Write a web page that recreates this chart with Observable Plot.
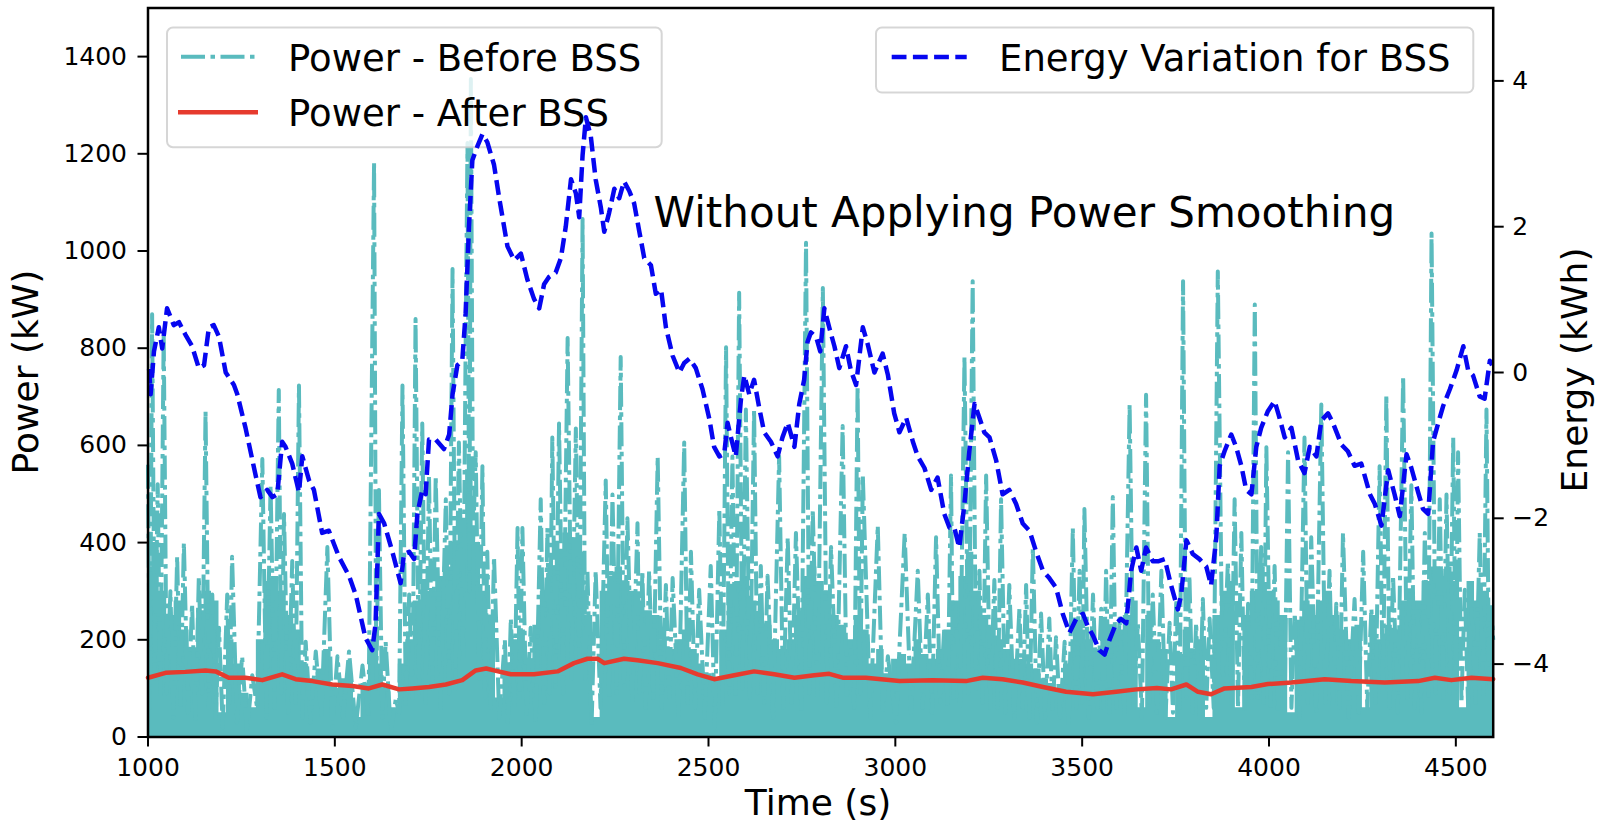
<!DOCTYPE html>
<html>
<head>
<meta charset="utf-8">
<script src="https://cdn.jsdelivr.net/npm/d3@7"></script>
<script src="https://cdn.jsdelivr.net/npm/@observablehq/plot@0.6"></script>
<style>
  html, body { margin: 0; padding: 0; background: #fff; }
  #chart svg { display: block; }
</style>
</head>
<body>
<div id="chart"></div>
<script>
// ---------------- DATA ----------------
// Power - Before BSS (kW): spikes and troughs
const beforeTime = [1000,1005,1011,1018,1026,1033,1042,1050,1060,1068,1078,1087,1096,1107,1118,1127,1136,1145,1154,1163,1172,1181,1190,1200,1212,1218,1225,1238,1252,1265,1279,1292,1306,1317,1328,1339,1350,1357,1364,1375,1386,1395,1404,1413,1422,1435,1449,1464,1480,1493,1507,1522,1538,1556,1574,1590,1605,1611,1618,1627,1636,1650,1663,1672,1681,1690,1699,1708,1716,1725,1734,1743,1752,1761,1770,1783,1797,1806,1815,1823,1832,1843,1850,1855,1860,1864,1870,1877,1886,1895,1902,1908,1917,1926,1940,1955,1963,1971,1980,1989,1995,2002,2013,2024,2038,2051,2060,2069,2075,2082,2091,2100,2111,2123,2134,2145,2154,2163,2170,2176,2187,2198,2211,2225,2234,2243,2254,2265,2274,2283,2296,2310,2316,2323,2332,2341,2352,2364,2375,2386,2395,2404,2420,2435,2444,2453,2464,2475,2490,2506,2517,2529,2538,2547,2555,2564,2573,2582,2591,2600,2611,2622,2631,2640,2649,2658,2673,2689,2700,2712,2723,2734,2748,2761,2770,2779,2792,2806,2817,2828,2843,2859,2870,2881,2890,2899,2906,2913,2933,2953,2966,2980,3002,3025,3042,3060,3073,3087,3098,3109,3120,3131,3140,3149,3155,3162,3173,3185,3196,3207,3216,3225,3234,3243,3254,3265,3274,3283,3294,3305,3318,3332,3341,3350,3359,3368,3379,3390,3401,3412,3421,3430,3441,3453,3464,3475,3484,3493,3500,3506,3518,3529,3540,3551,3557,3564,3573,3582,3591,3600,3613,3627,3638,3649,3660,3671,3680,3689,3700,3712,3723,3734,3743,3752,3761,3770,3778,3787,3796,3805,3814,3823,3832,3841,3852,3863,3876,3890,3899,3908,3917,3926,3935,3944,3953,3962,3970,3979,3986,3993,4004,4015,4024,4033,4042,4051,4060,4069,4082,4095,4104,4113,4126,4140,4151,4162,4171,4180,4189,4198,4213,4229,4240,4252,4263,4274,4285,4296,4305,4314,4323,4332,4345,4359,4370,4381,4390,4399,4408,4417,4426,4435,4446,4457,4466,4475,4484,4493,4500,4506,4515,4524,4533,4542,4553,4564,4573,4582,4589,4595,4600];
const beforePower = [560,60,870,120,520,80,830,90,300,40,371,60,400,50,274,30,330,90,670,60,293,40,225,20,293,70,371,30,166,10,127,60,572,40,518,60,714,90,459,50,362,70,723,40,196,30,176,40,391,20,166,40,176,20,147,40,1183,100,508,40,196,10,78,50,723,60,293,80,860,90,645,70,538,100,538,60,489,90,963,100,606,150,800,1222,300,1354,400,586,120,557,80,381,60,371,40,200,30,244,60,430,80,430,40,225,30,489,70,430,90,616,100,645,90,821,120,635,150,1066,120,342,20,342,60,528,80,499,90,782,100,450,70,440,90,342,60,342,80,577,60,313,80,327,40,606,70,381,60,303,40,352,20,469,60,802,90,577,80,914,100,674,80,674,90,352,70,332,40,577,60,411,70,420,50,1017,90,469,80,924,70,391,60,640,80,186,60,723,90,538,40,435,50,166,30,420,50,342,60,293,50,411,70,225,60,538,80,264,60,782,90,938,100,342,70,538,60,323,60,489,50,313,40,264,60,313,40,391,30,254,40,244,50,205,40,196,20,430,60,342,70,469,40,293,60,264,60,342,50,494,60,244,40,684,60,235,40,704,70,293,50,342,40,235,50,284,60,938,80,332,50,235,40,284,60,244,60,958,80,362,70,489,60,420,50,274,80,890,80,391,70,596,60,352,50,244,70,586,60,254,40,616,70,411,50,684,70,342,60,274,60,420,40,284,50,381,60,264,70,557,80,704,60,332,50,743,80,518,60,264,50,420,80,1036,90,489,80,499,90,616,100,586,70,303,60,264,70,420,80,674,100,264,200];
// Dense lower body of the "before" signal (kW), every 20 s
const bodyTime = [1000,1020,1040,1060,1080,1100,1120,1140,1160,1180,1200,1220,1240,1260,1280,1300,1320,1340,1360,1380,1400,1420,1440,1460,1480,1500,1520,1540,1560,1580,1600,1620,1640,1660,1680,1700,1720,1740,1760,1780,1800,1820,1840,1860,1880,1900,1920,1940,1960,1980,2000,2020,2040,2060,2080,2100,2120,2140,2160,2180,2200,2220,2240,2260,2280,2300,2320,2340,2360,2380,2400,2420,2440,2460,2480,2500,2520,2540,2560,2580,2600,2620,2640,2660,2680,2700,2720,2740,2760,2780,2800,2820,2840,2860,2880,2900,2920,2940,2960,2980,3000,3020,3040,3060,3080,3100,3120,3140,3160,3180,3200,3220,3240,3260,3280,3300,3320,3340,3360,3380,3400,3420,3440,3460,3480,3500,3520,3540,3560,3580,3600,3620,3640,3660,3680,3700,3720,3740,3760,3780,3800,3820,3840,3860,3880,3900,3920,3940,3960,3980,4000,4020,4040,4060,4080,4100,4120,4140,4160,4180,4200,4220,4240,4260,4280,4300,4320,4340,4360,4380,4400,4420,4440,4460,4480,4500,4520,4540,4560,4580,4600];
const bodyPower = [350,400,300,250,280,220,180,260,300,280,50,200,150,90,60,200,320,330,300,250,220,150,120,140,180,100,120,130,40,110,200,150,100,60,150,200,280,320,300,330,350,400,450,550,400,300,250,80,150,200,220,150,230,300,350,380,420,400,380,250,40,300,330,350,320,300,280,260,250,200,180,200,220,180,150,130,120,220,300,320,330,280,250,230,200,180,200,250,330,350,320,300,250,230,200,250,220,150,180,130,160,170,150,200,170,160,180,220,280,330,380,300,250,220,200,180,160,160,150,140,120,110,100,150,200,220,200,180,200,230,220,250,280,60,250,200,180,40,170,220,180,200,40,250,300,320,60,250,300,350,300,280,250,50,240,280,250,280,300,250,220,200,230,60,250,200,230,220,280,300,280,320,350,330,350,320,60,320,280,300,270];
// Power - After BSS (kW)
const afterTime = [1000,1047,1100,1154,1181,1216,1261,1306,1359,1395,1440,1493,1547,1591,1627,1672,1707,1752,1797,1841,1877,1905,1926,1971,2033,2096,2140,2176,2203,2221,2274,2310,2364,2426,2471,2515,2569,2622,2676,2730,2783,2823,2859,2921,3011,3100,3189,3234,3287,3341,3395,3457,3529,3591,3645,3700,3738,3779,3810,3845,3881,3953,3997,4060,4149,4220,4310,4399,4444,4488,4542,4600];
const afterPower = [122,132,134,137,135,122,122,117,129,119,115,108,105,100,108,98,100,103,108,117,137,141,137,129,129,135,152,161,161,152,161,158,152,142,129,119,127,135,129,122,127,130,122,122,115,117,115,122,119,112,103,93,88,93,98,101,98,108,93,88,100,103,109,112,119,115,112,115,122,117,122,119];
// Energy Variation for BSS (kWh)
const energyTime = [1003,1007,1016,1029,1038,1051,1069,1083,1100,1118,1136,1150,1163,1176,1190,1208,1230,1239,1261,1288,1301,1319,1333,1346,1359,1368,1386,1404,1413,1431,1444,1466,1484,1511,1538,1556,1582,1600,1609,1618,1632,1654,1676,1685,1699,1712,1721,1734,1743,1752,1770,1792,1806,1815,1828,1841,1850,1859,1868,1882,1895,1908,1926,1940,1962,1980,1998,2015,2033,2047,2060,2073,2091,2105,2118,2132,2145,2154,2163,2172,2185,2198,2212,2221,2234,2248,2261,2274,2288,2301,2315,2328,2346,2359,2373,2386,2404,2422,2435,2449,2466,2484,2502,2515,2529,2542,2551,2560,2573,2587,2596,2609,2622,2636,2649,2667,2685,2698,2712,2730,2743,2756,2765,2774,2788,2799,2810,2823,2837,2850,2868,2881,2895,2913,2926,2944,2966,2980,2997,3011,3029,3047,3060,3078,3096,3113,3131,3145,3158,3171,3185,3198,3212,3225,3238,3252,3270,3287,3305,3323,3341,3359,3377,3395,3412,3430,3448,3466,3484,3502,3515,3529,3546,3560,3573,3591,3604,3618,3631,3645,3658,3671,3689,3703,3721,3738,3756,3765,3779,3796,3814,3832,3845,3859,3868,3881,3899,3912,3926,3939,3953,3966,3979,3997,4015,4028,4042,4060,4078,4095,4109,4127,4140,4158,4171,4194,4211,4229,4247,4270,4283,4301,4319,4336,4350,4368,4381,4399,4412,4426,4439,4453,4466,4484,4502,4520,4533,4546,4564,4577,4591,4597];
const energyValue = [0.05,-0.30,0.29,0.62,0.33,0.88,0.65,0.69,0.52,0.36,0.06,0.10,0.62,0.65,0.49,0.0,-0.17,-0.30,-0.76,-1.41,-1.71,-1.61,-1.71,-1.67,-0.95,-1.02,-1.25,-1.64,-1.15,-1.48,-1.61,-2.20,-2.17,-2.53,-2.79,-3.05,-3.64,-3.81,-3.45,-1.94,-2.07,-2.46,-2.89,-2.49,-2.46,-2.56,-1.94,-1.61,-1.67,-0.92,-0.92,-1.05,-0.85,-0.30,0.10,0.16,0.81,2.0,2.91,3.11,3.27,3.16,2.85,2.39,1.73,1.54,1.63,1.28,1.01,0.88,1.21,1.31,1.37,1.57,2.0,2.65,2.46,2.13,2.98,3.50,3.24,2.65,2.26,1.93,2.19,2.52,2.39,2.62,2.49,2.32,1.93,1.57,1.47,1.08,1.14,0.62,0.23,0.0,0.13,0.19,0.06,-0.23,-0.63,-1.02,-1.15,-1.12,-0.69,-0.89,-1.15,-0.36,-0.04,-0.30,-0.10,-0.49,-0.82,-0.95,-1.15,-0.89,-0.69,-1.02,-0.43,-0.10,0.42,0.55,0.49,0.29,0.88,0.62,0.36,0.06,0.36,0.03,-0.17,0.62,0.39,0.0,0.26,-0.03,-0.56,-0.82,-0.62,-0.95,-1.15,-1.31,-1.61,-1.44,-1.94,-2.13,-2.13,-2.40,-1.80,-1.08,-0.43,-0.62,-0.82,-0.89,-1.21,-1.67,-1.61,-1.80,-2.07,-2.17,-2.46,-2.72,-2.82,-2.95,-3.31,-3.57,-3.38,-3.31,-3.48,-3.61,-3.81,-3.87,-3.67,-3.44,-3.38,-3.44,-2.72,-2.40,-2.72,-2.40,-2.59,-2.59,-2.56,-2.92,-3.25,-3.05,-2.30,-2.49,-2.56,-2.66,-2.92,-2.26,-1.28,-1.08,-0.85,-1.02,-1.28,-1.61,-1.67,-1.02,-0.76,-0.53,-0.39,-0.62,-0.89,-0.76,-1.21,-1.38,-1.02,-1.15,-0.66,-0.56,-0.69,-0.99,-1.08,-1.28,-1.25,-1.67,-1.80,-2.10,-1.34,-1.67,-1.97,-1.12,-1.31,-1.64,-1.87,-1.94,-0.95,-0.69,-0.46,-0.23,0.03,0.36,0.03,-0.04,-0.33,-0.36,0.16,0.10];

const xTicks = [1000,1500,2000,2500,3000,3500,4000,4500];
const yTicks = [0,200,400,600,800,1000,1200,1400];
const energyTicks = [-4,-2,0,2,4];
const seriesNames = ["Power - Before BSS","Power - After BSS","Energy Variation for BSS"];
const annotationText = "Without Applying Power Smoothing";
const titles = {x: "Time (s)", y: "Power (kW)", y2: "Energy (kWh)"};

// ---------------- SETUP ----------------
const timeDomain = [1000, 4600];
const powerDomain = [0, 1500];
const energyDomain = [-5, 5];
const toPower = d3.scaleLinear().domain(energyDomain).range(powerDomain);

const cyan = "#5abbbe", red = "#e63b2e", blue = "#0606f0";
const FONT = "'DejaVu Sans', 'Liberation Sans', sans-serif";
const W = 1601, H = 827;
const M = {left: 147.5, right: 108.3, top: 7.5, bottom: 90.5};

const beforeData = beforeTime.map((t, i) => ({t, p: beforePower[i]}));
const bodyData = bodyTime.map((t, i) => ({t, p: bodyPower[i]}));
const afterData = afterTime.map((t, i) => ({t, p: afterPower[i]}));
const energyData = energyTime.map((t, i) => ({t, e: energyValue[i]}));
const fmtSigned = v => { const r = Math.round(v); return r < 0 ? "\u2212" + Math.abs(r) : String(r); };

const chart = Plot.plot({
  width: W, height: H,
  marginLeft: M.left, marginRight: M.right, marginTop: M.top, marginBottom: M.bottom,
  style: {fontFamily: FONT, fontSize: "25px", color: "black", background: "white", overflow: "visible"},
  x: {domain: timeDomain},
  y: {domain: powerDomain},
  marks: [
    Plot.areaY(bodyData, {x: "t", y: "p", fill: cyan, curve: "step"}),
    Plot.line(beforeData, {x: "t", y: "p", stroke: cyan, strokeWidth: 4, strokeDasharray: "24,5.5,4.5,5.5", strokeLinecap: "butt", strokeLinejoin: "round"}),
    Plot.line(afterData, {x: "t", y: "p", stroke: red, strokeWidth: 4.5}),
    Plot.text([annotationText], {x: () => 2353, y: () => 1078, text: d => d, textAnchor: "start", lineAnchor: "middle", fontSize: 42, fill: "black"}),
    Plot.line(energyData, {x: "t", y: d => toPower(d.e), stroke: blue, strokeWidth: 4.5, strokeDasharray: "14.8,6.4", strokeLinecap: "butt", strokeLinejoin: "round"}),
    Plot.axisX({ticks: xTicks, tickFormat: "d", tickSize: 10, tickPadding: 11, fontSize: 25, strokeWidth: 2, label: null}),
    Plot.axisY({ticks: yTicks, tickFormat: "d", tickSize: 10, tickPadding: 11, fontSize: 25, strokeWidth: 2, label: null}),
    Plot.axisY({anchor: "right", ticks: energyTicks.map(toPower), tickFormat: v => fmtSigned(toPower.invert(v)), tickSize: 10, tickPadding: 9, fontSize: 25, strokeWidth: 2, label: null}),
    Plot.frame({stroke: "black", strokeWidth: 2.5})
  ]
});

document.getElementById("chart").appendChild(chart);
const svg = d3.select(chart);

// Legend 1 (belongs to the power axes: drawn under the energy line)
const leg1 = d3.create("svg:g").attr("font-family", FONT).attr("text-anchor", "start");
leg1.append("rect").attr("x", 167).attr("y", 27.5).attr("width", 494.7).attr("height", 119.8)
  .attr("rx", 6).attr("fill", "white").attr("fill-opacity", 0.8)
  .attr("stroke", "#cccccc").attr("stroke-opacity", 0.8).attr("stroke-width", 2);
leg1.append("line").attr("x1", 181).attr("x2", 256).attr("y1", 56.7).attr("y2", 56.7)
  .attr("stroke", cyan).attr("stroke-width", 4).attr("stroke-dasharray", "24,5.5,4.5,5.5");
leg1.append("line").attr("x1", 178).attr("x2", 258).attr("y1", 112.3).attr("y2", 112.3)
  .attr("stroke", red).attr("stroke-width", 4.5);
leg1.append("text").attr("x", 288).attr("y", 70.5).attr("font-size", 37).attr("fill", "black").text(seriesNames[0]);
leg1.append("text").attr("x", 288).attr("y", 126).attr("font-size", 37).attr("fill", "black").text(seriesNames[1]);
let energyG = null;
for (const g of chart.querySelectorAll(":scope > g")) {
  if (g.getAttribute("stroke") === blue) { energyG = g; break; }
}
if (energyG) chart.insertBefore(leg1.node(), energyG); else chart.appendChild(leg1.node());

// Legend 2 (energy axes, on top)
const leg2 = svg.append("g").attr("font-family", FONT).attr("text-anchor", "start");
leg2.append("rect").attr("x", 876).attr("y", 27.5).attr("width", 597.3).attr("height", 65.1)
  .attr("rx", 6).attr("fill", "white").attr("fill-opacity", 0.8)
  .attr("stroke", "#cccccc").attr("stroke-opacity", 0.8).attr("stroke-width", 2);
leg2.append("line").attr("x1", 891.7).attr("x2", 966.7).attr("y1", 57).attr("y2", 57)
  .attr("stroke", blue).attr("stroke-width", 4.5).attr("stroke-dasharray", "14.8,6.4");
leg2.append("text").attr("x", 999).attr("y", 71).attr("font-size", 37).attr("fill", "black").text(seriesNames[2]);

// Axis titles
const tg = svg.append("g").attr("font-family", FONT).attr("font-size", 36).attr("fill", "black").attr("text-anchor", "middle");
tg.append("text").attr("x", 818).attr("y", 815).text(titles.x);
tg.append("text").attr("transform", "translate(38,372) rotate(-90)").text(titles.y);
tg.append("text").attr("transform", "translate(1587,370) rotate(-90)").text(titles.y2);
</script>
</body>
</html>
